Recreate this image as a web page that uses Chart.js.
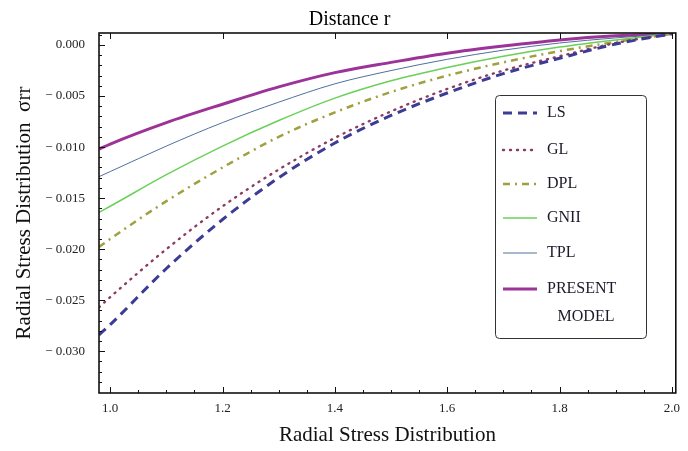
<!DOCTYPE html>
<html>
<head>
<meta charset="utf-8">
<script src="https://cdn.jsdelivr.net/npm/chart.js@4.4.1/dist/chart.umd.min.js"></script>
<style>
  html, body { margin: 0; padding: 0; background: #fff; }
  #wrap { width: 688px; height: 451px; }
</style>
</head>
<body>
<div id="wrap"><canvas id="stressChart" width="688" height="451"></canvas></div>
<script>
// radial distance r
const radius = [0.98, 1.0, 1.1, 1.2, 1.3, 1.4, 1.5, 1.6, 1.7, 1.8, 1.9, 2.0];

// sigma_rr for each model
const lsVals      = [-0.0284, -0.0274, -0.0219, -0.0171, -0.0130, -0.0096, -0.0069, -0.0047, -0.0028, -0.0013, 0.0001, 0.0011];
const glVals      = [-0.0257, -0.0247, -0.0200, -0.0158, -0.0122, -0.0091, -0.0065, -0.0043, -0.0025, -0.0011, 0.0002, 0.0011];
const dplVals     = [-0.0198, -0.0190, -0.0153, -0.0120, -0.0090, -0.0066, -0.0046, -0.0030, -0.0017, -0.0006, 0.0003, 0.0011];
const gniiVals    = [-0.0164, -0.0158, -0.0127, -0.0099, -0.0074, -0.0052, -0.0035, -0.0022, -0.0011, -0.0002, 0.0005, 0.0011];
const tplVals     = [-0.0129, -0.0124, -0.0099, -0.0076, -0.0056, -0.0038, -0.0025, -0.0014, -0.0005, 0.0002, 0.0007, 0.0011];
const presentVals = [-0.0102, -0.0097, -0.0076, -0.0058, -0.0041, -0.0027, -0.0017, -0.0008, -0.0001, 0.0005, 0.0009, 0.0011];

const seriesNames = ['LS', 'GL', 'DPL', 'GNII', 'TPL', 'PRESENT\nMODEL'];

const xTicks = [1.0, 1.2, 1.4, 1.6, 1.8, 2.0];
const yTicks = [0, -0.005, -0.010, -0.015, -0.020, -0.025, -0.030];

const serif = "'Liberation Serif', 'DejaVu Serif', serif";

function pts(vals) {
    return radius.map((r, i) => ({ x: r, y: vals[i] }));
}

// Mathematica style frame with inward ticks
const frameTicks = {
    id: 'frameTicks',
    afterDatasetsDraw(chart) {
        const { ctx, chartArea: a, scales: { x, y } } = chart;
        ctx.save();
        ctx.strokeStyle = '#111';
        ctx.lineWidth = 1;
        ctx.beginPath();
        for (let v = 1.0; v <= 2.001; v += 0.05) {
            const px = Math.round(x.getPixelForValue(v)) + 0.5;
            const major = xTicks.some(t => Math.abs(t - v) < 1e-6);
            const len = major ? 6 : 3;
            ctx.moveTo(px, a.bottom);
            ctx.lineTo(px, a.bottom - len);
            if (major) {
                ctx.moveTo(px, a.top);
                ctx.lineTo(px, a.top + len);
            }
        }
        for (let v = 0.001; v >= -0.034; v -= 0.001) {
            const py = Math.round(y.getPixelForValue(v)) + 0.5;
            const major = yTicks.some(t => Math.abs(t - v) < 1e-6);
            const len = major ? 6 : 3;
            ctx.moveTo(a.left, py);
            ctx.lineTo(a.left + len, py);
        }
        ctx.stroke();
        ctx.lineWidth = 1.6;
        ctx.strokeRect(a.left, a.top, a.right - a.left, a.bottom - a.top);
        ctx.restore();
    }
};

// boxed legend inside the plot
const boxLegend = {
    id: 'boxLegend',
    afterDraw(chart) {
        const ctx = chart.ctx;
        const bx = 495, by = 95, bw = 151, bh = 243;
        const rowY = [113, 150, 184, 218, 253, 289];
        ctx.save();
        ctx.fillStyle = '#fff';
        ctx.strokeStyle = '#333';
        ctx.lineWidth = 1;
        ctx.beginPath();
        ctx.roundRect(bx + 0.5, by + 0.5, bw, bh, 4);
        ctx.fill();
        ctx.stroke();
        ctx.font = '16px ' + serif;
        ctx.textBaseline = 'middle';
        chart.data.datasets.forEach((ds, i) => {
            const yy = rowY[i];
            ctx.beginPath();
            ctx.strokeStyle = ds.borderColor;
            ctx.lineWidth = ds.borderWidth;
            ctx.lineCap = ds.borderCapStyle || 'butt';
            ctx.setLineDash(ds.borderDash || []);
            ctx.moveTo(503, yy);
            ctx.lineTo(537, yy);
            ctx.stroke();
            ctx.setLineDash([]);
            ctx.fillStyle = '#1a1a2a';
            const lines = ds.label.split('\n');
            ctx.textAlign = 'left';
            ctx.fillText(lines[0], 547, yy);
            if (lines[1]) {
                ctx.textAlign = 'center';
                ctx.fillText(lines[1], 586, yy + 28);
            }
        });
        ctx.restore();
    }
};

const ctx = document.getElementById('stressChart').getContext('2d');
const stressChart = new Chart(ctx, {
    type: 'line',
    data: {
        datasets: [
            { label: seriesNames[0], data: pts(lsVals), borderColor: '#3c3c96', borderWidth: 3, borderDash: [9, 6] },
            { label: seriesNames[1], data: pts(glVals), borderColor: '#8c3b62', borderWidth: 2.4, borderDash: [1, 6], borderCapStyle: 'round' },
            { label: seriesNames[2], data: pts(dplVals), borderColor: '#a0a040', borderWidth: 2.5, borderDash: [7, 5, 2, 5] },
            { label: seriesNames[3], data: pts(gniiVals), borderColor: '#6bd05a', borderWidth: 1.5 },
            { label: seriesNames[4], data: pts(tplVals), borderColor: '#50709a', borderWidth: 1 },
            { label: seriesNames[5], data: pts(presentVals), borderColor: '#9b3399', borderWidth: 3 }
        ]
    },
    options: {
        responsive: false,
        animation: false,
        cubicInterpolationMode: 'monotone',
        elements: { point: { radius: 0 }, line: { fill: false } },
        layout: { padding: { left: 12, right: 1, top: 0, bottom: 0 } },
        plugins: {
            legend: { display: false },
            tooltip: { enabled: false },
            title: {
                display: true,
                text: 'Distance r',
                color: '#000',
                font: { family: serif, size: 20, weight: 'normal' },
                padding: { top: 8, bottom: 1 }
            }
        },
        scales: {
            x: {
                type: 'linear',
                min: 0.98,
                max: 2.007,
                grid: { display: false, drawTicks: false },
                border: { display: false },
                afterBuildTicks: s => { s.ticks = xTicks.map(v => ({ value: v })); },
                afterFit: s => { s.height = 58; },
                ticks: {
                    padding: 8,
                    color: '#222',
                    font: { family: serif, size: 13 },
                    maxRotation: 0,
                    callback: v => Number(v).toFixed(1)
                },
                title: {
                    display: true,
                    text: 'Radial Stress Distribution',
                    color: '#111',
                    font: { family: serif, size: 21 },
                    padding: { top: 0, bottom: 3 }
                }
            },
            y: {
                min: -0.0341,
                max: 0.00118,
                grid: { display: false, drawTicks: false },
                border: { display: false },
                afterBuildTicks: s => { s.ticks = yTicks.map(v => ({ value: v })); },
                afterFit: s => { s.width = 87; },
                ticks: {
                    padding: 14,
                    color: '#222',
                    font: { family: serif, size: 13 },
                    callback: v => v === 0 ? '0.000' : '\u2212 ' + Math.abs(v).toFixed(3)
                },
                title: {
                    display: true,
                    text: 'Radial Stress Distribution  \u03C3rr',
                    color: '#111',
                    font: { family: serif, size: 21 },
                    padding: { top: 0, bottom: 0 }
                }
            }
        }
    },
    plugins: [frameTicks, boxLegend]
});
</script>
</body>
</html>
